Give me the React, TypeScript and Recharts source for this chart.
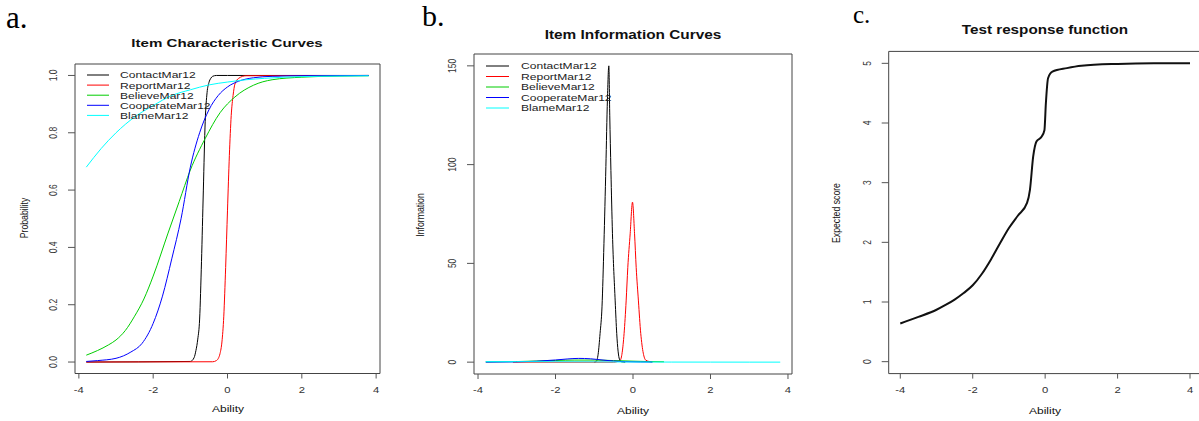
import React from 'react';
import { LineChart, Line, XAxis, YAxis, ReferenceArea } from 'recharts';

// the source figure is stretched sideways, so horizontal text gets scaleX
const FONT = '"Liberation Sans", Arial, sans-serif';
const SERIF = '"Liberation Serif", "Times New Roman", serif';
const STRETCH = 1.28;

const itemNames = ['ContactMar12', 'ReportMar12', 'BelieveMar12', 'CooperateMar12', 'BlameMar12'];
const itemColors = ['#000000', '#ff0000', '#00cd00', '#0000ff', '#00ffff'];
const abilityTicks = [-4, -2, 0, 2, 4];

// a. item characteristic curves
const contactIccX = [-3.8, -1.0, -0.9, -0.85, -0.8, -0.75, -0.7, -0.65, -0.6, -0.55, -0.5, -0.45, -0.4, -0.3, 0, 3.8];
const contactIccY = [0, 0.002, 0.015, 0.04, 0.08, 0.15, 0.35, 0.6, 0.84, 0.94, 0.975, 0.99, 0.997, 1, 1, 1];
const reportIccX = [-3.8, -0.4, -0.3, -0.25, -0.2, -0.15, -0.1, -0.05, 0, 0.05, 0.1, 0.15, 0.2, 0.3, 0.5, 3.8];
const reportIccY = [0, 0.001, 0.005, 0.012, 0.03, 0.07, 0.16, 0.33, 0.53, 0.72, 0.86, 0.93, 0.97, 0.99, 0.999, 1];
const believeIccX = [-3.8, -3.5, -3.2, -3, -2.75, -2.5, -2.25, -2, -1.6, -1.3, -1, -0.6, -0.2, 0.2, 0.7, 1.2, 2, 3, 3.8];
const believeIccY = [0.024, 0.04, 0.06, 0.077, 0.11, 0.16, 0.22, 0.3, 0.45, 0.56, 0.67, 0.78, 0.87, 0.925, 0.966, 0.985, 0.994, 0.998, 0.999];
const cooperateIccX = [-3.8, -3.5, -3, -2.6, -2.3, -2, -1.75, -1.5, -1.25, -1, -0.75, -0.5, -0.25, 0, 0.3, 0.7, 1.2, 2, 3.8];
const cooperateIccY = [0.002, 0.005, 0.013, 0.035, 0.065, 0.135, 0.23, 0.36, 0.5, 0.68, 0.8, 0.88, 0.93, 0.96, 0.98, 0.992, 0.997, 0.999, 1];
const blameIccX = [-3.8, -3.4, -3, -2.5, -2, -1.5, -1, -0.5, 0, 0.5, 1, 1.5, 2, 3, 3.8];
const blameIccY = [0.68, 0.745, 0.8, 0.855, 0.895, 0.93, 0.95, 0.967, 0.977, 0.985, 0.99, 0.994, 0.996, 0.998, 0.999];
const probTicks = [0, 0.2, 0.4, 0.6, 0.8, 1.0];

// b. item information curves
const contactInfoX = [-1.0, -0.95, -0.9, -0.85, -0.8, -0.75, -0.7, -0.66, -0.624, -0.6, -0.57, -0.53, -0.46, -0.42, -0.35, -0.3, -0.2];
const contactInfoY = [0, 0.3, 4, 14.5, 28, 60, 99, 133, 150, 125, 97, 65, 31, 14.5, 1.5, 0.2, 0];
const reportInfoX = [-3.1, -0.5, -0.33, -0.23, -0.177, -0.134, -0.073, -0.013, 0.04, 0.082, 0.14, 0.2, 0.33, 0.5];
const reportInfoY = [0, 0, 1, 14.5, 31, 48, 65, 81, 65, 48, 31, 14.5, 1, 0];
const believeInfoX = [-3.8, -3, -2.5, -2, -1.5, -1, -0.5, 0, 0.4, 0.8];
const believeInfoY = [0.1, 0.3, 0.55, 0.85, 1.05, 1.05, 0.8, 0.5, 0.3, 0.18];
const cooperateInfoX = [-3.8, -3, -2.5, -2, -1.7, -1.4, -1.1, -0.8, -0.5, -0.2, 0.2, 0.5];
const cooperateInfoY = [0.03, 0.15, 0.45, 1.1, 1.6, 1.9, 1.7, 1.1, 0.55, 0.25, 0.08, 0.04];
const blameInfoX = [-3.8, -3, -2, -1, 0, 1, 2, 3, 3.8];
const blameInfoY = [0.25, 0.25, 0.2, 0.14, 0.08, 0.04, 0.02, 0.01, 0.005];
const infoTicks = [0, 50, 100, 150];

// c. test response function
const trfX = [-4, -3.5, -3, -2.75, -2.5, -2.25, -2, -1.75, -1.5, -1.25, -1, -0.75, -0.5, -0.42, -0.33, -0.24, -0.1, -0.02, 0.02, 0.08, 0.2, 0.6, 1, 2, 3, 4];
const trfY = [0.64, 0.75, 0.87, 0.95, 1.04, 1.15, 1.28, 1.47, 1.71, 1.98, 2.24, 2.45, 2.66, 2.88, 3.44, 3.69, 3.77, 3.88, 4.33, 4.75, 4.86, 4.92, 4.96, 4.99, 5.0, 5.0];
const scoreTicks = [0, 1, 2, 3, 4, 5];

const zip = (xs: number[], ys: number[]) => xs.map((x, i) => ({ x, y: ys[i] }));

const iccSeries = [
  zip(contactIccX, contactIccY),
  zip(reportIccX, reportIccY),
  zip(believeIccX, believeIccY),
  zip(cooperateIccX, cooperateIccY),
  zip(blameIccX, blameIccY),
].map((data, i) => ({ name: itemNames[i], color: itemColors[i], data }));

const infoSeries = [
  zip(contactInfoX, contactInfoY),
  zip(reportInfoX, reportInfoY),
  zip(believeInfoX, believeInfoY),
  zip(cooperateInfoX, cooperateInfoY),
  zip(blameInfoX, blameInfoY),
].map((data, i) => ({ name: itemNames[i], color: itemColors[i], data }));

const trfSeries = [{ name: 'Expected score', color: '#111111', data: zip(trfX, trfY) }];

type Series = { name: string; color: string; data: { x: number; y: number }[] };

const XTick = (p: any) => (
  <text
    transform={`translate(${p.x},${p.y + 11}) scale(${STRETCH},1)`}
    textAnchor="middle"
    dominantBaseline="central"
    fontSize={8.8}
    fontFamily={FONT}
    fill="#333"
  >
    {p.payload.value}
  </text>
);

const YTick = (p: any, fmt: (v: number) => string) => (
  <text
    transform={`translate(${p.x - 15},${p.y}) scale(${STRETCH},1) rotate(-90)`}
    textAnchor="middle"
    dominantBaseline="central"
    fontSize={8.5}
    fontFamily={FONT}
    fill="#333"
  >
    {fmt(p.payload.value)}
  </text>
);

function Panel(props: {
  left: number;
  width: number;
  margin: { top: number; right: number; bottom: number; left: number };
  xDomain: [number, number];
  yDomain: [number, number];
  yTicks: number[];
  yFmt: (v: number) => string;
  series: Series[];
  strokeWidth: number;
}) {
  const { left, width, margin, xDomain, yDomain, yTicks, yFmt, series, strokeWidth } = props;
  return (
    <div style={{ position: 'absolute', left, top: 0 }}>
      <LineChart width={width} height={421} margin={margin}>
        <XAxis
          type="number"
          dataKey="x"
          domain={xDomain}
          ticks={abilityTicks}
          interval={0}
          allowDataOverflow
          axisLine={false}
          tickLine={{ stroke: '#555' }}
          tickSize={5}
          tickMargin={0}
          tick={XTick}
          height={30}
        />
        <YAxis
          type="number"
          dataKey="y"
          domain={yDomain}
          ticks={yTicks}
          interval={0}
          allowDataOverflow
          axisLine={false}
          tickLine={{ stroke: '#555' }}
          tickSize={7}
          tickMargin={0}
          tick={(p: any) => YTick(p, yFmt)}
          width={30}
        />
        <ReferenceArea
          x1={xDomain[0]}
          x2={xDomain[1]}
          y1={yDomain[0]}
          y2={yDomain[1]}
          fill="none"
          fillOpacity={0}
          stroke="#444"
          strokeWidth={1}
          ifOverflow="visible"
        />
        {series.map((s) => (
          <Line
            key={s.name}
            name={s.name}
            data={s.data}
            dataKey="y"
            type="monotone"
            stroke={s.color}
            strokeWidth={strokeWidth}
            dot={false}
            isAnimationActive={false}
          />
        ))}
      </LineChart>
    </div>
  );
}

function Txt(props: {
  x: number;
  y: number;
  size: number;
  bold?: boolean;
  rotate?: boolean;
  children: React.ReactNode;
}) {
  const { x, y, size, bold, rotate, children } = props;
  return (
    <div
      style={{
        position: 'absolute',
        left: x,
        top: y,
        transform: `translate(-50%,-50%) scaleX(${STRETCH})${rotate ? ' rotate(-90deg)' : ''}`,
        fontFamily: FONT,
        fontSize: size,
        fontWeight: bold ? 700 : 400,
        lineHeight: 1,
        whiteSpace: 'nowrap',
        color: '#111',
      }}
    >
      {children}
    </div>
  );
}

// R-style legend (bty = "n"): short coloured strokes + names
function ItemLegend({ x, y, rowH, lineW, gap }: { x: number; y: number; rowH: number; lineW: number; gap: number }) {
  return (
    <svg
      width={200}
      height={rowH * 5 + 4}
      style={{ position: 'absolute', left: x, top: y - 2, overflow: 'visible' }}
    >
      {itemNames.map((name, i) => {
        const cy = 2 + i * rowH;
        return (
          <g key={name}>
            <line x1={0} x2={lineW} y1={cy} y2={cy} stroke={itemColors[i]} strokeWidth={1} />
            <text
              transform={`translate(${lineW + gap},${cy}) scale(1.3,1)`}
              dominantBaseline="central"
              fontFamily={FONT}
              fontSize={9.3}
              fill="#222"
            >
              {name}
            </text>
          </g>
        );
      })}
    </svg>
  );
}

function Letter({ x, y, size, children }: { x: number; y: number; size: number; children: React.ReactNode }) {
  return (
    <div style={{ position: 'absolute', left: x, top: y, fontFamily: SERIF, fontSize: size, lineHeight: 1.15, color: '#000' }}>
      {children}
    </div>
  );
}

export default function App() {
  return (
    <div
      style={{
        position: 'absolute',
        left: 0,
        top: 0,
        width: 1199,
        height: 421,
        overflow: 'hidden',
        background: '#fff',
      }}
    >
      <Panel
        left={0}
        width={400}
        margin={{ top: 64, right: 20, bottom: 17.5, left: 45 }}
        xDomain={[-4.104, 4.104]}
        yDomain={[-0.04, 1.04]}
        yTicks={probTicks}
        yFmt={(v) => v.toFixed(1)}
        series={iccSeries}
        strokeWidth={1}
      />
      <Panel
        left={400}
        width={400}
        margin={{ top: 54, right: 8, bottom: 17, left: 44 }}
        xDomain={[-4.104, 4.104]}
        yDomain={[-6, 156]}
        yTicks={infoTicks}
        yFmt={(v) => String(v)}
        series={infoSeries}
        strokeWidth={1}
      />
      <Panel
        left={800}
        width={410}
        margin={{ top: 51.4, right: 8.4, bottom: 17.4, left: 58.7 }}
        xDomain={[-4.32, 4.32]}
        yDomain={[-0.2, 5.2]}
        yTicks={scoreTicks}
        yFmt={(v) => String(v)}
        series={trfSeries}
        strokeWidth={2}
      />

      <ItemLegend x={87} y={75} rowH={10.1} lineW={22} gap={11} />
      <ItemLegend x={486} y={66} rowH={10.5} lineW={23} gap={12} />

      <Letter x={6} y={0} size={31}>a.</Letter>
      <Letter x={422} y={-1} size={30}>b.</Letter>
      <Letter x={853} y={1} size={25}>c.</Letter>

      <Txt x={227} y={43.5} size={11.8} bold>Item Characteristic Curves</Txt>
      <Txt x={633} y={34.5} size={12} bold>Item Information Curves</Txt>
      <Txt x={1045} y={31} size={11.9} bold>Test response function</Txt>

      <Txt x={228} y={408.5} size={9.4}>Ability</Txt>
      <Txt x={633} y={410.5} size={9.4}>Ability</Txt>
      <Txt x={1045} y={410.5} size={9.4}>Ability</Txt>

      <Txt x={25} y={218} size={8.7} rotate>Probability</Txt>
      <Txt x={421} y={215} size={8.7} rotate>Information</Txt>
      <Txt x={837} y={213} size={8.7} rotate>Expected score</Txt>
    </div>
  );
}
